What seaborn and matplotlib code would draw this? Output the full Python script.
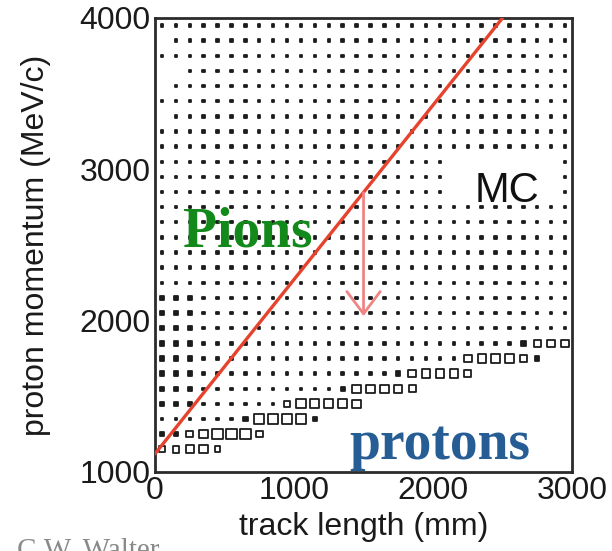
#--------------------------------------------
# Proton momentum vs track length (MC), drawn
# as a ROOT-style box histogram with the
# pion / proton separation cut.
#--------------------------------------------

#%%
import numpy as np
import pandas as pd
import matplotlib
matplotlib.use("Agg")
import matplotlib.pyplot as plt
import seaborn as sns

from matplotlib.ticker import MultipleLocator

#%%
#--------------------DATA-----------------------

# Bin centres of the 2D histogram (100 mm x 100 MeV/c bins)

length_bins = [50, 150, 250, 350, 450, 550, 650, 750, 850, 950,
               1050, 1150, 1250, 1350, 1450, 1550, 1650, 1750, 1850, 1950,
               2050, 2150, 2250, 2350, 2450, 2550, 2650, 2750, 2850, 2950]

momentum_bins = [1150, 1250, 1350, 1450, 1550, 1650, 1750, 1850, 1950, 2050,
                 2150, 2250, 2350, 2450, 2550, 2650, 2750, 2850, 2950, 3050,
                 3150, 3250, 3350, 3450, 3550, 3650, 3750, 3850, 3950]

# Proton band at the low-momentum edge of each row:
# momentum row -> (first track-length bin, relative box contents)
# The last entry is also the last filled bin of the row.

proton_band = {
    1150: (50,   [3, 4, 6, 6, 3]),
    1250: (50,   [2, 2, 4, 6, 9, 9, 9, 4]),
    1350: (650,  [2, 9, 9, 9, 9, 2]),
    1450: (950,  [4, 7, 7, 7, 7, 6]),
    1550: (1350, [2, 6, 6, 6, 6, 4]),
    1650: (1750, [2, 5, 6, 6, 6, 4]),
    1750: (2050, [1, 1, 5, 6, 6, 6, 5, 2]),
    1850: (2650, [2, 5, 5, 5]),
}

# Slightly fuller bins for very short tracks (first three length bins)

short_track_rows = [1450, 1550, 1650, 1750, 1850, 1950, 2050, 2150]
short_track_content = [2, 2, 2]

# Empty cells: top-left gaps and the area behind the "MC" label

missing_cells = [(50, 3850), (50, 3650), (150, 3650), (50, 3550), (50, 3350)]
mc_blank_lengths = [2150, 2250, 2350, 2450, 2550, 2650, 2750, 2850]
mc_blank_momenta = [2850, 2950, 3050]

# Pion / proton separation cut and the arrow showing the cut direction

cut_length = [0, 2500]
cut_momentum = [1120, 4000]

arrow_length = 1500
arrow_from = 2845
arrow_to = 2030

#%%
#--------------------BUILD HISTOGRAM TABLE-------

cells = []
for m in momentum_bins:
    band = proton_band.get(m)
    last = length_bins[-1]
    if band is not None:
        last = band[0] + 100 * (len(band[1]) - 1)
    for i, l in enumerate(length_bins):
        if l > last:
            break
        if (l, m) in missing_cells:
            continue
        if l in mc_blank_lengths and m in mc_blank_momenta:
            continue
        content = 1
        if m in short_track_rows and i < len(short_track_content):
            content = short_track_content[i]
        if band is not None and l >= band[0]:
            content = band[1][int((l - band[0]) // 100)]
        cells.append((l, m, content))

hist = pd.DataFrame(cells, columns=["length", "momentum", "content"])

# Tiny boxes render as solid dots

hist["solid"] = hist["content"] <= 2

#%%
#--------------------PLOT------------------------

sns.set_style("white")
plt.rcParams["font.family"] = ["Liberation Sans", "DejaVu Sans"]

fig = plt.figure(figsize=(6.12, 5.51), dpi=100)
ax = fig.add_axes([0.2533, 0.1434, 0.6814, 0.8240])

# Boxes (area proportional to content, open squares as in ROOT "box")

sns.scatterplot(data=hist, x="length", y="momentum", size="content",
                hue="solid", palette={True: "#1c1c1c", False: "white"},
                sizes=(3, 56), size_norm=(1, 9), marker="s",
                edgecolor="#1c1c1c", linewidth=1.3,
                legend=False, ax=ax, zorder=2)

# Separation cut

sns.lineplot(x=cut_length, y=cut_momentum, color="#e6432f",
             linewidth=2.4, ax=ax, zorder=3)

ax.annotate("", xy=(arrow_length, arrow_to), xytext=(arrow_length, arrow_from),
            arrowprops=dict(arrowstyle="->,head_length=0.8,head_width=0.6",
                            color="#ef8585", lw=2, mutation_scale=20,
                            shrinkA=0, shrinkB=0),
            zorder=3)

# Annotations

ax.text(200, 2490, "Pions", family=["Liberation Serif"], weight="bold",
        size=40, color="#12891a", ha="left", va="baseline", zorder=4)
ax.text(1396, 1086, "protons", family=["Liberation Serif"], weight="bold",
        size=40, color="#275d95", ha="left", va="baseline", zorder=4,
        clip_on=False)
ax.text(2302, 2784, "MC", size=30, color="#111111", ha="left",
        va="baseline", zorder=4)

fig.text(0.028, -0.0127, "C.W. Walter", family=["Liberation Serif"],
         size=21, color="#8a8a8a", ha="left", va="baseline")

# Axes styling

ax.set_xlim(0, 3000)
ax.set_ylim(1000, 4000)
ax.set_xticks([0, 1000, 2000, 3000])
ax.set_yticks([1000, 2000, 3000, 4000])
ax.xaxis.set_minor_locator(MultipleLocator(200))
ax.yaxis.set_minor_locator(MultipleLocator(200))
ax.tick_params(which="both", direction="in", color="#222222",
               labelsize=23, labelcolor="#1a1a1a")
ax.tick_params(which="major", length=6.5, width=1.0)
ax.tick_params(which="minor", length=3.2, width=0.9)
ax.tick_params(axis="x", pad=3)
ax.tick_params(axis="y", pad=3)

for side in ["left", "right", "top", "bottom"]:
    ax.spines[side].set_visible(True)
    ax.spines[side].set_linewidth(2.0)
    ax.spines[side].set_color("#2b2b2b")

ax.set_xlabel("track length (mm)", fontsize=23, color="#1a1a1a")
ax.set_ylabel("proton momentum (MeV/c)", fontsize=23, color="#1a1a1a")
ax.xaxis.set_label_coords(0.5, -0.088)
ax.yaxis.set_label_coords(-0.249, 0.5)

fig.savefig("out.png", dpi=100)
